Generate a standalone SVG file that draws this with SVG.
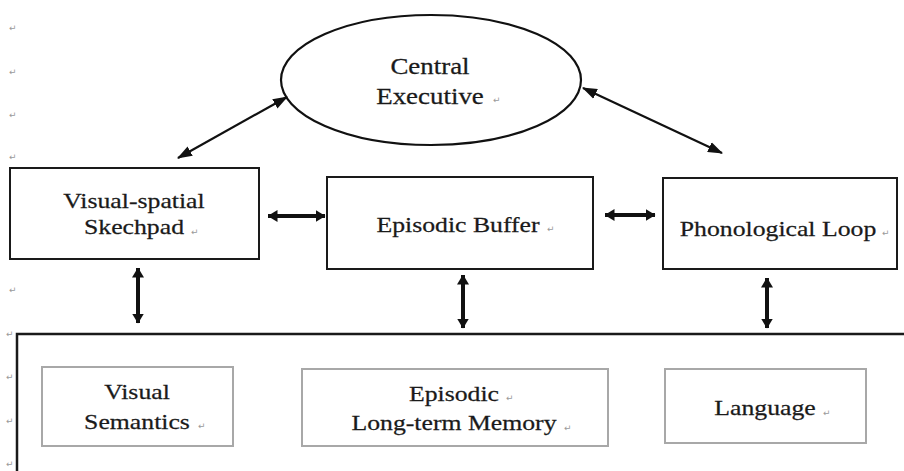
<svg xmlns="http://www.w3.org/2000/svg" width="904" height="471" viewBox="0 0 904 471">
<defs>
<style>
.lbl{font-family:'Liberation Serif','Times New Roman',serif;font-size:22px;fill:#1a1a1a;stroke:#1a1a1a;stroke-width:0.25;text-anchor:middle}
.big{font-size:23px}
.pm{font-family:'DejaVu Sans',sans-serif;font-size:9px;fill:#9a9a9a}
.box{fill:#fff;stroke:#1a1a1a;stroke-width:2}
.gbox{fill:#fff;stroke:#a8a8a8;stroke-width:2}
.thin{stroke:#111;stroke-width:2.2;fill:none}
.thick{stroke:#111;stroke-width:4;fill:none}
</style>
<marker id="ah" viewBox="0 0 14 10" refX="13" refY="5" markerWidth="15" markerHeight="11" markerUnits="userSpaceOnUse" orient="auto-start-reverse">
<path d="M0,0 L14,5 L0,10 Z" fill="#111"/>
</marker>
<marker id="ahb" viewBox="0 0 10 12" refX="9.5" refY="6" markerWidth="10" markerHeight="12" markerUnits="userSpaceOnUse" orient="auto-start-reverse">
<path d="M0,0 L10,6 L0,12 Z" fill="#111"/>
</marker>
</defs>
<rect width="904" height="471" fill="#fff"/>

<g id="margin-marks">
<text class="pm" x="9" y="31">↵</text>
<text class="pm" x="9" y="75">↵</text>
<text class="pm" x="9" y="118">↵</text>
<text class="pm" x="9" y="160">↵</text>
<text class="pm" x="9" y="293">↵</text>
<text class="pm" x="6" y="337">↵</text>
<text class="pm" x="6" y="380">↵</text>
<text class="pm" x="6" y="424">↵</text>
<text class="pm" x="6" y="467">↵</text>
</g>

<g id="ltm">
<path d="M17,471 L17,334 L904,334" fill="none" stroke="#1a1a1a" stroke-width="2.5"/>
</g>

<g id="central-executive">
<ellipse cx="431" cy="80" rx="150" ry="65" fill="#fff" stroke="#111" stroke-width="2.2"/>
<text class="lbl big" transform="translate(430,74) scale(1.17,1)">Central</text>
<text class="lbl big" transform="translate(430,104) scale(1.17,1)">Executive</text>
<text class="pm" x="493" y="103">↵</text>
</g>

<g id="visual-spatial">
<rect class="box" x="10" y="168" width="249" height="91"/>
<text class="lbl" transform="translate(134,208) scale(1.17,1)">Visual-spatial</text>
<text class="lbl" transform="translate(134,234) scale(1.17,1)">Skechpad</text>
<text class="pm" x="191" y="235">↵</text>
</g>

<g id="episodic-buffer">
<rect class="box" x="327" y="177" width="266" height="92"/>
<text class="lbl" transform="translate(458,232) scale(1.17,1)">Episodic Buffer</text>
<text class="pm" x="547" y="232">↵</text>
</g>

<g id="phonological-loop">
<rect class="box" x="663" y="178" width="234" height="91"/>
<text class="lbl" transform="translate(778,236) scale(1.17,1)">Phonological Loop</text>
<text class="pm" x="882" y="236">↵</text>
</g>

<g id="visual-semantics">
<rect class="gbox" x="42" y="367" width="191" height="79"/>
<text class="lbl" transform="translate(137,399) scale(1.17,1)">Visual</text>
<text class="lbl" transform="translate(137,429) scale(1.17,1)">Semantics</text>
<text class="pm" x="198" y="429">↵</text>
</g>

<g id="episodic-ltm">
<rect class="gbox" x="302" y="369" width="306" height="77"/>
<text class="lbl" transform="translate(454,401) scale(1.17,1)">Episodic</text>
<text class="pm" x="506" y="401">↵</text>
<text class="lbl" transform="translate(454,430) scale(1.17,1)">Long-term Memory</text>
<text class="pm" x="564" y="431">↵</text>
</g>

<g id="language">
<rect class="gbox" x="665" y="369" width="201" height="74"/>
<text class="lbl" transform="translate(765,415) scale(1.17,1)">Language</text>
<text class="pm" x="823" y="416">↵</text>
</g>

<g id="connectors">
<line class="thin" x1="287" y1="97" x2="178" y2="158" marker-start="url(#ah)" marker-end="url(#ah)"/>
<line class="thin" x1="583" y1="88" x2="722" y2="153" marker-start="url(#ah)" marker-end="url(#ah)"/>
<line class="thick" x1="268" y1="216" x2="325" y2="216" marker-start="url(#ahb)" marker-end="url(#ahb)"/>
<line class="thick" x1="605" y1="215" x2="655" y2="215" marker-start="url(#ahb)" marker-end="url(#ahb)"/>
<line class="thick" x1="138" y1="268" x2="138" y2="323" marker-start="url(#ahb)" marker-end="url(#ahb)"/>
<line class="thick" x1="463" y1="275" x2="463" y2="328" marker-start="url(#ahb)" marker-end="url(#ahb)"/>
<line class="thick" x1="767" y1="278" x2="767" y2="328" marker-start="url(#ahb)" marker-end="url(#ahb)"/>
</g>
</svg>
